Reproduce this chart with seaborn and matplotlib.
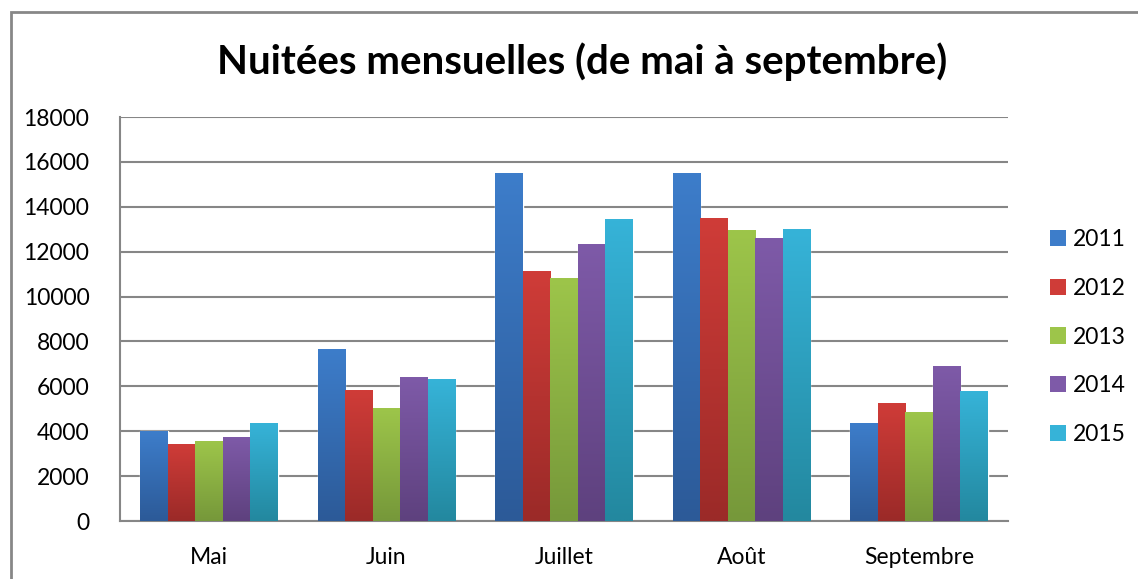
import numpy as np
import pandas as pd
import matplotlib
matplotlib.use("Agg")
import matplotlib.pyplot as plt
from matplotlib.patches import Patch, Rectangle
from matplotlib.colors import to_rgb
import seaborn as sns

# data
months = ["Mai", "Juin", "Juillet", "Août", "Septembre"]
years = ["2011", "2012", "2013", "2014", "2015"]
v2011 = [4000, 7650, 15500, 15500, 4350]
v2012 = [3400, 5800, 11100, 13500, 5250]
v2013 = [3550, 5000, 10800, 12950, 4850]
v2014 = [3700, 6400, 12300, 12600, 6900]
v2015 = [4350, 6300, 13450, 13000, 5750]

top_cols = ["#3D7DCA", "#CF3C38", "#9DC54A", "#7E5AA8", "#36B3D8"]
bot_cols = ["#2C5A98", "#9B2A28", "#76983A", "#5E417E", "#23889F"]

rows = []
for y, vals in zip(years, [v2011, v2012, v2013, v2014, v2015]):
    for m, v in zip(months, vals):
        rows.append({"mois": m, "annee": y, "nuitees": v})
df = pd.DataFrame(rows)

sns.set_style("white")
plt.rcParams["font.family"] = ["Lato", "DejaVu Sans"]
plt.rcParams["text.color"] = "black"
plt.rcParams["xtick.labelcolor"] = "black"
plt.rcParams["ytick.labelcolor"] = "black"

W, H = 1138, 579
fig = plt.figure(figsize=(W / 100, H / 100), dpi=100)
ax = fig.add_axes([120 / W, 1 - 521 / H, 888 / W, 404 / H])

sns.barplot(data=df, x="mois", y="nuitees", hue="annee", order=months,
            hue_order=years, palette=top_cols, width=0.775, ax=ax,
            legend=False, saturation=1, zorder=2)

# vertical gradient on each bar (Excel look)
for i, p in enumerate(ax.patches):
    k = i // len(months)
    x0, w, h = p.get_x(), p.get_width(), p.get_height()
    c1, c2 = np.array(to_rgb(top_cols[k])), np.array(to_rgb(bot_cols[k]))
    t = np.linspace(0, 1, 100)[:, None]
    grad = (c1 * (1 - t) + c2 * t)[:, None, :]
    ax.imshow(grad, extent=[x0, x0 + w, 0, h], aspect="auto",
              origin="upper", zorder=3, interpolation="bilinear")

ax.set_xlim(-0.5, len(months) - 0.5)
ax.set_ylim(0, 18000)
ax.set_yticks(range(0, 18001, 2000))
ax.set_xticks(range(len(months)))
ax.set_xticklabels(months)
ax.set_xticks(np.arange(-0.5, len(months), 1), minor=True)
ax.tick_params(axis="x", which="major", length=0, pad=19, labelsize=16.5)
ax.tick_params(axis="x", which="minor", length=8, width=1.5, color="#868686", direction="out")
ax.tick_params(axis="y", length=8, width=1.5, color="#868686", direction="out",
               pad=14, labelsize=16.5)
ax.set_xlabel("")
ax.set_ylabel("")

ax.yaxis.grid(True, color="#868686", linewidth=1.5, zorder=0)
ax.set_axisbelow(True)
for s in ["top", "right"]:
    ax.spines[s].set_visible(False)
for s in ["left", "bottom"]:
    ax.spines[s].set_color("#868686")
    ax.spines[s].set_linewidth(1.5)

fig.text(582 / W, 1 - 62 / H, "Nuitées mensuelles (de mai à septembre)",
         ha="center", va="center", fontsize=29, fontweight="bold")

handles = [Patch(facecolor=c, edgecolor="none") for c in top_cols]
fig.legend(handles, years, loc="center left",
           bbox_to_anchor=(1050 / W, 1 - 337 / H), frameon=False,
           fontsize=16.5, borderpad=0, borderaxespad=0, handlelength=0.7,
           handleheight=0.7, handletextpad=0.3, labelspacing=1.22)

# chart area border
fig.patches.append(Rectangle((11 / W, -0.05), 1.2, 1 - 12 / H + 0.05,
                             transform=fig.transFigure, fill=False,
                             edgecolor="#878787", linewidth=2))

fig.savefig("out.png", dpi=100, facecolor="white")
